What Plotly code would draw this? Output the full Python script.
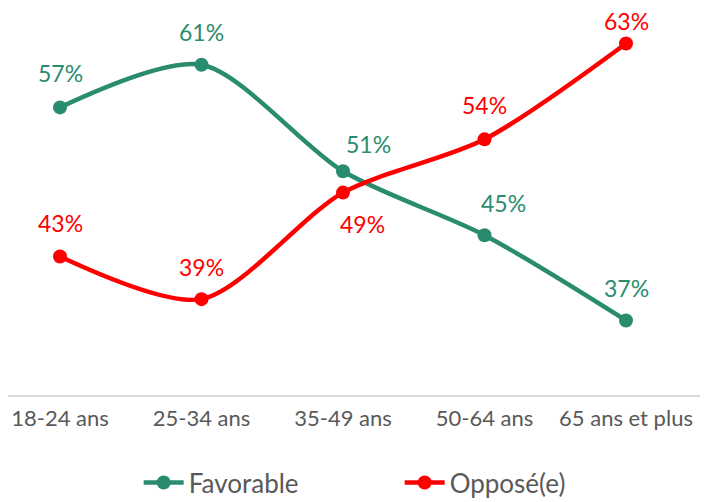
import plotly.graph_objects as go

categories = ["18-24 ans", "25-34 ans", "35-49 ans", "50-64 ans", "65 ans et plus"]
favorable = [57, 61, 51, 45, 37]
oppose = [43, 39, 49, 54, 63]

GREEN = "#2A8C6E"
RED = "#FF0000"
FONT = "Lato, 'Open Sans', sans-serif"

# data-label placement (pixel offsets from each marker, as moved in the source chart)
fav_label_dx = [0, 0, 25, 19, 0]
fav_label_dy = [34, 33, 27, 32, 32]
opp_label_dx = [0, 0, 19, 0, 0]
opp_label_dy = [34, 32, -31, 34, 22]

fig = go.Figure()
fig.add_trace(go.Scatter(
    x=categories, y=favorable, name="Favorable", mode="lines+markers",
    line=dict(color=GREEN, width=4.5, shape="spline", smoothing=0.8),
    marker=dict(color=GREEN, size=14), hoverinfo="skip"))
fig.add_trace(go.Scatter(
    x=categories, y=oppose, name="Opposé(e)", mode="lines+markers",
    line=dict(color=RED, width=4.5, shape="spline", smoothing=0.8),
    marker=dict(color=RED, size=14), hoverinfo="skip"))

annotations = []
for c, v, dx, dy in zip(categories, favorable, fav_label_dx, fav_label_dy):
    annotations.append(dict(x=c, y=v, text=f"{v}%", showarrow=False,
                            xshift=dx, yshift=dy,
                            font=dict(color=GREEN, size=23, family=FONT)))
for c, v, dx, dy in zip(categories, oppose, opp_label_dx, opp_label_dy):
    annotations.append(dict(x=c, y=v, text=f"{v}%", showarrow=False,
                            xshift=dx, yshift=dy,
                            font=dict(color=RED, size=23, family=FONT)))

fig.update_layout(
    width=702, height=494,
    margin=dict(l=0, r=10, t=0, b=107, autoexpand=False),
    paper_bgcolor="white", plot_bgcolor="white",
    font=dict(family=FONT, color="#595959"),
    annotations=annotations,
    xaxis=dict(type="category", range=[-0.3675, 4.523], showgrid=False,
               showline=True, linecolor="#D9D9D9", linewidth=1.5,
               ticks="", tickfont=dict(size=22, color="#595959"),
               ticklabelstandoff=3, zeroline=False, automargin=False),
    yaxis=dict(range=[30, 66.33], visible=False, showgrid=False, zeroline=False,
               automargin=False),
    showlegend=True,
    legend=dict(orientation="h", x=0.566, xanchor="center",
                y=-0.287, yanchor="bottom",
                font=dict(size=26, color="#595959"), entrywidth=206,
                itemwidth=40),
)

fig.write_html("out.html")
